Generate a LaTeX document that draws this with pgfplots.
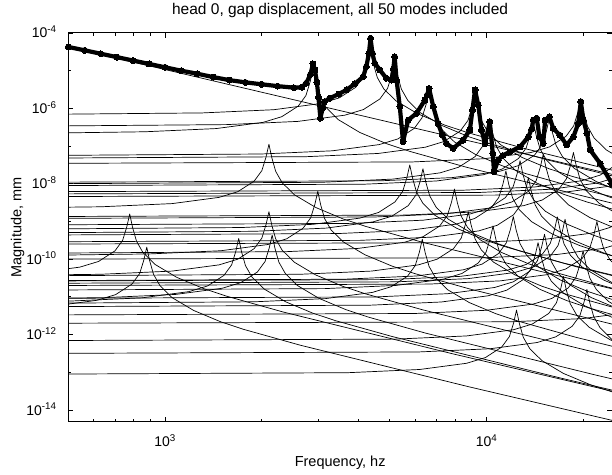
\documentclass[border=0pt]{standalone}
\usepackage{fontspec}
\setmainfont{Liberation Sans}
\usepackage{pgfplots}
\pgfplotsset{compat=1.18}

% axes are linear in log10 units: x = log10(f / hz), y = log10(magnitude / mm)
\pgfplotsset{
  mode/.style={black, line width=0.7pt, no marks, line join=round},
}

\begin{document}
\begin{tikzpicture}
\begin{axis}[
  scale only axis,
  width=543.7pt, height=388.7pt,
  xmin=2.699, xmax=4.39,
  ymin=-14.31, ymax=-4,
  axis line style={line width=1pt},
  every tick/.style={black, line width=0.9pt},
  tick align=inside,
  major tick length=5pt, minor tick length=3pt,
  xtick={3,4},
  xticklabels={10\textsuperscript{3},10\textsuperscript{4}},
  minor xtick={2.778,2.845,2.903,2.954,3.301,3.477,3.602,3.699,3.778,3.845,3.903,3.954,4.301},
  ytick={-14,-12,-10,-8,-6,-4},
  yticklabels={10\textsuperscript{-14},10\textsuperscript{-12},10\textsuperscript{-10},10\textsuperscript{-8},10\textsuperscript{-6},10\textsuperscript{-4}},
  minor ytick={-13,-11,-9,-7,-5},
  tick label style={font=\fontsize{14}{16}\selectfont, inner sep=0pt},
  xticklabel style={anchor=base, yshift=-25pt},
  yticklabel style={anchor=base east, xshift=-11.5pt, yshift=-5pt},
  title={head 0, gap displacement, all 50 modes included},
  title style={font=\fontsize{15.5}{18}\selectfont, at={(0.5,1)}, anchor=base, yshift=12pt, inner sep=0pt},
  xlabel={Frequency, hz},
  ylabel={Magnitude, mm},
  label style={font=\fontsize{14.5}{17}\selectfont, inner sep=0pt},
  xlabel style={at={(axis description cs:0.5,0)}, anchor=base, yshift=-45pt},
  ylabel style={at={(axis description cs:-0.0865,0.5)}, anchor=base},
]

% rigid body line
\addplot[mode] coordinates {(2.6,-4.17) (4.45,-7.87)};

% modes that carry the peaks of the total response
\addplot[mode] coordinates {(2.6,-6.66) (2.937,-6.62) (3.159,-6.535) (3.305,-6.37) (3.363,-6.22) (3.414,-5.94) (3.438,-5.66) (3.451,-5.30) (3.460,-4.96) (3.469,-5.32) (3.481,-5.68) (3.501,-5.98) (3.539,-6.30) (3.606,-6.64) (3.690,-6.94) (3.761,-7.14) (3.937,-7.56) (4.460,-8.66)};
\addplot[mode] coordinates {(2.6,-6.16) (3.116,-6.12) (3.338,-6.035) (3.484,-5.87) (3.542,-5.72) (3.593,-5.44) (3.617,-5.16) (3.630,-4.80) (3.639,-4.46) (3.648,-4.82) (3.660,-5.18) (3.680,-5.48) (3.718,-5.80) (3.785,-6.14) (3.869,-6.44) (3.940,-6.64) (4.116,-7.06) (4.639,-8.16)};
\addplot[mode] coordinates {(2.6,-6.47) (3.191,-6.43) (3.413,-6.345) (3.559,-6.18) (3.617,-6.03) (3.668,-5.75) (3.692,-5.47) (3.705,-5.11) (3.714,-4.77) (3.723,-5.13) (3.735,-5.49) (3.755,-5.79) (3.793,-6.11) (3.860,-6.45) (3.944,-6.75) (4.015,-6.95) (4.191,-7.37) (4.714,-8.47)};
\addplot[mode] coordinates {(2.6,-7.25) (3.298,-7.21) (3.520,-7.125) (3.666,-6.96) (3.724,-6.81) (3.775,-6.53) (3.799,-6.25) (3.812,-5.89) (3.821,-5.55) (3.830,-5.91) (3.842,-6.27) (3.862,-6.57) (3.900,-6.89) (3.967,-7.23) (4.051,-7.53) (4.122,-7.73) (4.298,-8.15) (4.821,-9.25)};
\addplot[mode] coordinates {(2.6,-7.32) (3.441,-7.28) (3.663,-7.195) (3.809,-7.03) (3.867,-6.88) (3.918,-6.60) (3.942,-6.32) (3.955,-5.96) (3.964,-5.62) (3.973,-5.98) (3.985,-6.34) (4.005,-6.64) (4.043,-6.96) (4.110,-7.30) (4.194,-7.60) (4.265,-7.80) (4.441,-8.22)};
\addplot[mode] coordinates {(2.6,-8.00) (3.487,-7.96) (3.709,-7.875) (3.855,-7.71) (3.913,-7.56) (3.964,-7.28) (3.988,-7.00) (4.001,-6.64) (4.010,-6.30) (4.019,-6.66) (4.031,-7.02) (4.051,-7.32) (4.089,-7.64) (4.156,-7.98) (4.240,-8.28) (4.311,-8.48) (4.487,-8.90)};
\addplot[mode] coordinates {(2.6,-8.05) (3.622,-8.01) (3.844,-7.925) (3.990,-7.76) (4.048,-7.61) (4.099,-7.33) (4.123,-7.05) (4.136,-6.69) (4.145,-6.35) (4.154,-6.71) (4.166,-7.07) (4.186,-7.37) (4.224,-7.69) (4.291,-8.03) (4.375,-8.33) (4.446,-8.53)};
\addplot[mode] coordinates {(2.6,-7.96) (3.672,-7.92) (3.894,-7.835) (4.040,-7.67) (4.098,-7.52) (4.149,-7.24) (4.173,-6.96) (4.186,-6.60) (4.195,-6.26) (4.204,-6.62) (4.216,-6.98) (4.236,-7.28) (4.274,-7.60) (4.341,-7.94) (4.425,-8.24)};
\addplot[mode] coordinates {(2.6,-7.46) (3.770,-7.42) (3.992,-7.335) (4.138,-7.17) (4.196,-7.02) (4.247,-6.74) (4.271,-6.46) (4.284,-6.10) (4.293,-5.76) (4.302,-6.12) (4.314,-6.48) (4.334,-6.78) (4.372,-7.10) (4.439,-7.44)};

% weaker modes with visible cusps
\addplot[mode] coordinates {(2.367,-10.46) (2.589,-10.375) (2.735,-10.21) (2.793,-10.06) (2.844,-9.78) (2.868,-9.50) (2.881,-9.14) (2.890,-8.80) (2.899,-9.16) (2.911,-9.52) (2.931,-9.82) (2.969,-10.14) (3.036,-10.48) (3.120,-10.78) (3.191,-10.98) (3.367,-11.40) (3.890,-12.50) (4.890,-14.50)};
\addplot[mode] coordinates {(2.420,-11.34) (2.642,-11.255) (2.788,-11.09) (2.846,-10.94) (2.897,-10.66) (2.921,-10.38) (2.934,-10.02) (2.943,-9.68) (2.952,-10.04) (2.964,-10.40) (2.984,-10.70) (3.022,-11.02) (3.089,-11.36) (3.173,-11.66) (3.244,-11.86) (3.420,-12.28) (3.943,-13.38) (4.943,-15.38)};
\addplot[mode] coordinates {(2.6,-11.13) (2.706,-11.11) (2.928,-11.025) (3.074,-10.86) (3.132,-10.71) (3.183,-10.43) (3.207,-10.15) (3.220,-9.79) (3.229,-9.45) (3.238,-9.81) (3.250,-10.17) (3.270,-10.47) (3.308,-10.79) (3.375,-11.13) (3.459,-11.43) (3.530,-11.63) (3.706,-12.05) (4.229,-13.15) (5.229,-15.15)};
\addplot[mode] coordinates {(2.6,-8.63) (2.800,-8.61) (3.022,-8.525) (3.168,-8.36) (3.226,-8.21) (3.277,-7.93) (3.301,-7.65) (3.314,-7.29) (3.323,-6.95) (3.332,-7.31) (3.344,-7.67) (3.364,-7.97) (3.402,-8.29) (3.469,-8.63) (3.553,-8.93) (3.624,-9.13) (3.800,-9.55) (4.323,-10.65) (5.323,-12.65)};
\addplot[mode] coordinates {(2.6,-10.42) (2.800,-10.40) (3.022,-10.315) (3.168,-10.15) (3.226,-10.00) (3.277,-9.72) (3.301,-9.44) (3.314,-9.08) (3.323,-8.74) (3.332,-9.10) (3.344,-9.46) (3.364,-9.76) (3.402,-10.08) (3.469,-10.42) (3.553,-10.72) (3.624,-10.92) (3.800,-11.34) (4.323,-12.44) (5.323,-14.44)};
\addplot[mode] coordinates {(2.6,-11.04) (2.810,-11.02) (3.032,-10.935) (3.178,-10.77) (3.236,-10.62) (3.287,-10.34) (3.311,-10.06) (3.324,-9.70) (3.333,-9.36) (3.342,-9.72) (3.354,-10.08) (3.374,-10.38) (3.412,-10.70) (3.479,-11.04) (3.563,-11.34) (3.634,-11.54) (3.810,-11.96) (4.333,-13.06) (5.333,-15.06)};
\addplot[mode] coordinates {(2.6,-9.90) (2.952,-9.86) (3.174,-9.775) (3.320,-9.61) (3.378,-9.46) (3.429,-9.18) (3.453,-8.90) (3.466,-8.54) (3.475,-8.20) (3.484,-8.56) (3.496,-8.92) (3.516,-9.22) (3.554,-9.54) (3.621,-9.88) (3.705,-10.18) (3.776,-10.38) (3.952,-10.80) (4.475,-11.90)};
\addplot[mode] coordinates {(2.6,-9.20) (3.238,-9.16) (3.460,-9.075) (3.606,-8.91) (3.664,-8.76) (3.715,-8.48) (3.739,-8.20) (3.752,-7.84) (3.761,-7.50) (3.770,-7.86) (3.782,-8.22) (3.802,-8.52) (3.840,-8.84) (3.907,-9.18) (3.991,-9.48) (4.062,-9.68) (4.238,-10.10) (4.761,-11.20)};
\addplot[mode] coordinates {(2.6,-9.30) (3.279,-9.26) (3.501,-9.175) (3.647,-9.01) (3.705,-8.86) (3.756,-8.58) (3.780,-8.30) (3.793,-7.94) (3.802,-7.60) (3.811,-7.96) (3.823,-8.32) (3.843,-8.62) (3.881,-8.94) (3.948,-9.28) (4.032,-9.58) (4.103,-9.78) (4.279,-10.20) (4.802,-11.30)};
\addplot[mode] coordinates {(2.6,-11.17) (3.277,-11.13) (3.499,-11.045) (3.645,-10.88) (3.703,-10.73) (3.754,-10.45) (3.778,-10.17) (3.791,-9.81) (3.800,-9.47) (3.809,-9.83) (3.821,-10.19) (3.841,-10.49) (3.879,-10.81) (3.946,-11.15) (4.030,-11.45) (4.101,-11.65) (4.277,-12.07) (4.800,-13.17)};
\addplot[mode] coordinates {(2.6,-10.44) (3.420,-10.40) (3.642,-10.315) (3.788,-10.15) (3.846,-10.00) (3.897,-9.72) (3.921,-9.44) (3.934,-9.08) (3.943,-8.74) (3.952,-9.10) (3.964,-9.46) (3.984,-9.76) (4.022,-10.08) (4.089,-10.42) (4.173,-10.72) (4.244,-10.92) (4.420,-11.34)};
\addplot[mode] coordinates {(2.6,-10.57) (3.560,-10.53) (3.782,-10.445) (3.928,-10.28) (3.986,-10.13) (4.037,-9.85) (4.061,-9.57) (4.074,-9.21) (4.083,-8.87) (4.092,-9.23) (4.104,-9.59) (4.124,-9.89) (4.162,-10.21) (4.229,-10.55) (4.313,-10.85) (4.384,-11.05) (4.560,-11.47)};
\addplot[mode] coordinates {(2.6,-13.05) (3.570,-13.01) (3.792,-12.925) (3.938,-12.76) (3.996,-12.61) (4.047,-12.33) (4.071,-12.05) (4.084,-11.69) (4.093,-11.35) (4.102,-11.71) (4.114,-12.07) (4.134,-12.37) (4.172,-12.69) (4.239,-13.03) (4.323,-13.33) (4.394,-13.53)};
\addplot[mode] coordinates {(2.6,-10.64) (3.721,-10.60) (3.943,-10.515) (4.089,-10.35) (4.147,-10.20) (4.198,-9.92) (4.222,-9.64) (4.235,-9.28) (4.244,-8.94) (4.253,-9.30) (4.265,-9.66) (4.285,-9.96) (4.323,-10.28) (4.390,-10.62)};
\addplot[mode] coordinates {(2.6,-12.16) (3.716,-12.12) (3.938,-12.035) (4.084,-11.87) (4.142,-11.72) (4.193,-11.44) (4.217,-11.16) (4.230,-10.80) (4.239,-10.46) (4.248,-10.82) (4.260,-11.18) (4.280,-11.48) (4.318,-11.80) (4.385,-12.14) (4.469,-12.44)};
\addplot[mode] coordinates {(2.6,-12.50) (3.789,-12.46) (4.011,-12.375) (4.157,-12.21) (4.215,-12.06) (4.266,-11.78) (4.290,-11.50) (4.303,-11.14) (4.312,-10.80) (4.321,-11.16) (4.333,-11.52) (4.353,-11.82) (4.391,-12.14)};
\addplot[mode] coordinates {(2.6,-10.70) (3.820,-10.66) (4.042,-10.575) (4.188,-10.41) (4.246,-10.26) (4.297,-9.98) (4.321,-9.70) (4.334,-9.34) (4.343,-9.00) (4.352,-9.36) (4.364,-9.72) (4.384,-10.02) (4.422,-10.34)};
\addplot[mode] coordinates {(2.6,-9.09) (3.581,-9.05) (3.803,-8.965) (3.949,-8.80) (4.007,-8.65) (4.058,-8.37) (4.082,-8.09) (4.095,-7.73) (4.104,-7.39) (4.113,-7.75) (4.125,-8.11) (4.145,-8.41) (4.183,-8.73) (4.250,-9.07) (4.334,-9.37) (4.405,-9.57)};
\addplot[mode] coordinates {(2.6,-8.92) (3.653,-8.88) (3.875,-8.795) (4.021,-8.63) (4.079,-8.48) (4.130,-8.20) (4.154,-7.92) (4.167,-7.56) (4.176,-7.22) (4.185,-7.58) (4.197,-7.94) (4.217,-8.24) (4.255,-8.56) (4.322,-8.90) (4.406,-9.20)};
\addplot[mode] coordinates {(2.6,-8.87) (3.747,-8.83) (3.969,-8.745) (4.115,-8.58) (4.173,-8.43) (4.224,-8.15) (4.248,-7.87) (4.261,-7.51) (4.270,-7.17) (4.279,-7.53) (4.291,-7.89) (4.311,-8.19) (4.349,-8.51) (4.416,-8.85)};
\addplot[mode] coordinates {(2.6,-9.36) (3.537,-9.32) (3.759,-9.235) (3.905,-9.07) (3.963,-8.92) (4.014,-8.64) (4.038,-8.36) (4.051,-8.00) (4.060,-7.66) (4.069,-8.02) (4.081,-8.38) (4.101,-8.68) (4.139,-9.00) (4.206,-9.34) (4.290,-9.64) (4.361,-9.84) (4.537,-10.26)};
\addplot[mode] coordinates {(2.6,-9.54) (3.607,-9.50) (3.829,-9.415) (3.975,-9.25) (4.033,-9.10) (4.084,-8.82) (4.108,-8.54) (4.121,-8.18) (4.130,-7.84) (4.139,-8.20) (4.151,-8.56) (4.171,-8.86) (4.209,-9.18) (4.276,-9.52) (4.360,-9.82) (4.431,-10.02)};
\addplot[mode] coordinates {(2.6,-10.58) (3.697,-10.54) (3.919,-10.455) (4.065,-10.29) (4.123,-10.14) (4.174,-9.86) (4.198,-9.58) (4.211,-9.22) (4.220,-8.88) (4.229,-9.24) (4.241,-9.60) (4.261,-9.90) (4.299,-10.22) (4.366,-10.56) (4.450,-10.86)};
\addplot[mode] coordinates {(2.6,-10.82) (3.497,-10.78) (3.719,-10.695) (3.865,-10.53) (3.923,-10.38) (3.974,-10.10) (3.998,-9.82) (4.011,-9.46) (4.020,-9.12) (4.029,-9.48) (4.041,-9.84) (4.061,-10.14) (4.099,-10.46) (4.166,-10.80) (4.250,-11.10) (4.321,-11.30) (4.497,-11.72)};
\addplot[mode] coordinates {(2.6,-11.26) (3.637,-11.22) (3.859,-11.135) (4.005,-10.97) (4.063,-10.82) (4.114,-10.54) (4.138,-10.26) (4.151,-9.90) (4.160,-9.56) (4.169,-9.92) (4.181,-10.28) (4.201,-10.58) (4.239,-10.90) (4.306,-11.24) (4.390,-11.54)};
\addplot[mode] coordinates {(2.6,-11.48) (3.777,-11.44) (3.999,-11.355) (4.145,-11.19) (4.203,-11.04) (4.254,-10.76) (4.278,-10.48) (4.291,-10.12) (4.300,-9.78) (4.309,-10.14) (4.321,-10.50) (4.341,-10.80) (4.379,-11.12) (4.446,-11.46)};
\addplot[mode] coordinates {(2.6,-9.84) (3.377,-9.80) (3.599,-9.715) (3.745,-9.55) (3.803,-9.40) (3.854,-9.12) (3.878,-8.84) (3.891,-8.48) (3.900,-8.14) (3.909,-8.50) (3.921,-8.86) (3.941,-9.16) (3.979,-9.48) (4.046,-9.82) (4.130,-10.12) (4.201,-10.32) (4.377,-10.74) (4.900,-11.84)};
\addplot[mode] coordinates {(2.6,-11.04) (3.657,-11.00) (3.879,-10.915) (4.025,-10.75) (4.083,-10.60) (4.134,-10.32) (4.158,-10.04) (4.171,-9.68) (4.180,-9.34) (4.189,-9.70) (4.201,-10.06) (4.221,-10.36) (4.259,-10.68) (4.326,-11.02) (4.410,-11.32)};

% modes above the plotted range
\addplot[mode] coordinates {(2.6,-8.21) (3.927,-8.17) (4.149,-8.085) (4.295,-7.92) (4.353,-7.77) (4.404,-7.49)};
\addplot[mode] coordinates {(2.6,-8.27) (3.977,-8.23) (4.199,-8.145) (4.345,-7.98) (4.403,-7.83)};
\addplot[mode] coordinates {(2.6,-8.34) (4.027,-8.30) (4.249,-8.215) (4.395,-8.05)};
\addplot[mode] coordinates {(2.6,-9.60) (3.957,-9.56) (4.179,-9.475) (4.325,-9.31) (4.383,-9.16) (4.434,-8.88)};
\addplot[mode] coordinates {(2.6,-10.00) (3.997,-9.96) (4.219,-9.875) (4.365,-9.71) (4.423,-9.56)};
\addplot[mode] coordinates {(2.6,-11.70) (4.077,-11.66) (4.299,-11.575) (4.445,-11.41)};

% total response
\addplot[black, line width=4.2pt, line join=round, line cap=round, mark=*, mark size=3pt,
  mark options={line width=0pt}] coordinates {
(2.699,-4.37) (2.75,-4.46) (2.80,-4.55) (2.85,-4.64) (2.90,-4.73) (2.95,-4.82) (3.00,-4.91)
(3.05,-5.00) (3.10,-5.08) (3.15,-5.17) (3.20,-5.25) (3.25,-5.31) (3.30,-5.36) (3.35,-5.41)
(3.40,-5.45) (3.425,-5.44) (3.439,-5.33) (3.452,-5.10) (3.460,-4.82) (3.466,-4.98) (3.472,-5.30)
(3.477,-5.70) (3.483,-6.26) (3.490,-6.00) (3.496,-5.82) (3.512,-5.73) (3.540,-5.62) (3.564,-5.51)
(3.590,-5.35) (3.616,-5.16) (3.626,-4.89) (3.634,-4.54) (3.639,-4.14) (3.645,-4.54) (3.652,-4.80)
(3.668,-4.98) (3.688,-5.20) (3.704,-5.25) (3.710,-4.95) (3.714,-4.63) (3.720,-5.25) (3.730,-5.95)
(3.740,-6.88) (3.756,-6.31) (3.782,-6.13) (3.808,-5.78) (3.815,-5.65) (3.821,-5.47) (3.834,-5.95)
(3.849,-6.40) (3.862,-6.70) (3.875,-6.93) (3.896,-7.06) (3.927,-6.84) (3.948,-6.57) (3.956,-6.04)
(3.964,-5.51) (3.974,-5.91) (3.984,-6.57) (3.995,-6.93) (4.010,-6.35) (4.019,-7.19) (4.023,-7.68)
(4.036,-7.37) (4.050,-7.25) (4.073,-7.15) (4.104,-7.02) (4.130,-6.75) (4.140,-6.55) (4.145,-6.31)
(4.156,-6.26) (4.164,-6.75) (4.176,-6.93) (4.182,-6.31) (4.195,-6.22) (4.207,-6.53) (4.228,-6.71)
(4.249,-6.97) (4.270,-6.75) (4.285,-6.40) (4.293,-5.82) (4.301,-6.31) (4.312,-6.66) (4.322,-7.10)
(4.353,-7.46) (4.389,-7.99)};

\end{axis}
\pgfresetboundingbox
\path ([shift={(-68.3pt,-53.3pt)}]current axis.south west) rectangle ([shift={(0pt,33pt)}]current axis.north east);
\end{tikzpicture}
\end{document}
